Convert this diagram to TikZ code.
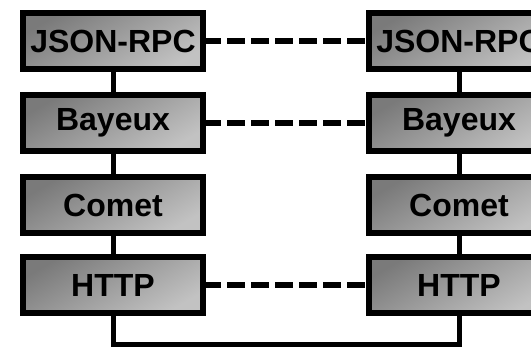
\documentclass[tikz,border=0pt]{standalone}
\usepackage{fontspec}
\setmainfont{Liberation Sans}
\usetikzlibrary{calc}
\tikzset{layer/.style={draw, line width=6pt, minimum width=180pt, minimum height=56pt,
    top color=black!52, bottom color=black!24, shading angle=30,
    font=\bfseries\fontsize{32}{32}\selectfont},
  link/.style={line width=5pt},
  peer/.style={line width=6pt, dash pattern=on 18pt off 6pt, dash phase=3pt}}
\begin{document}
\begin{tikzpicture}[x=1pt,y=-1pt]
\useasboundingbox (0,0) rectangle (531,348);
\foreach \n/\t/\y in {json/JSON-RPC/41, bay/Bayeux/123, com/Comet/205, http/HTTP/285}{
	\node[layer] (\n1) at (113,\y) {\t}; \node[layer] (\n2) at (459,\y) {\t};
	}
\foreach \a/\b in {json/bay, bay/com, com/http}{
	\draw[link] (\a1.south) -- (\b1.north); \draw[link] (\a2.south) -- (\b2.north);
	}
\draw[peer] (json1) -- (json2);\draw[peer] (bay1) -- (bay2);\draw[peer] (http1) -- (http2);
\draw[link] (http1.south) -- ++(0,28) -| (http2.south);
\end{tikzpicture}
\end{document}
